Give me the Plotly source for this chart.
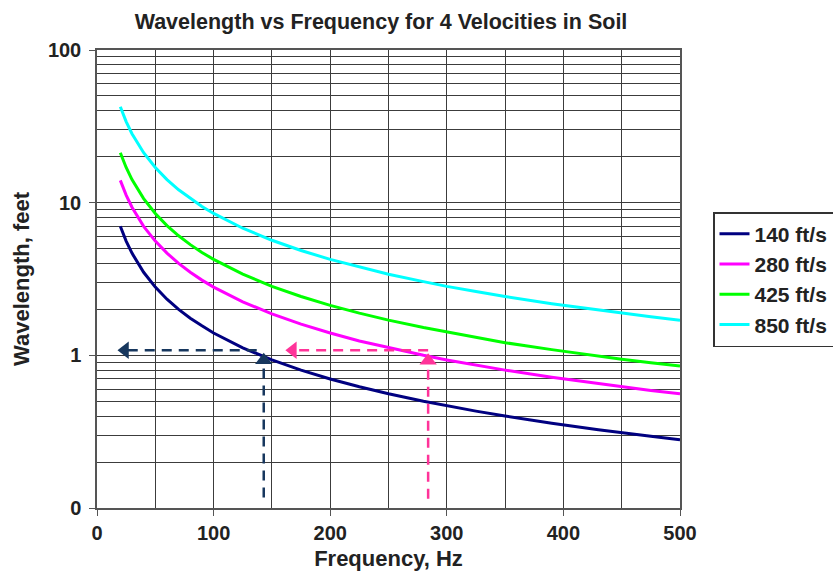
import plotly.graph_objects as go

freq = [20, 25, 30, 35, 40, 50, 60, 70, 80, 90, 100, 125, 150, 175, 200, 225, 250, 280, 300, 325, 350, 390, 430, 450, 475, 500]
wl_140 = [7.0, 5.6, 4.67, 4.0, 3.5, 2.8, 2.33, 2.0, 1.75, 1.56, 1.4, 1.12, 0.933, 0.8, 0.7, 0.622, 0.56, 0.5, 0.467, 0.431, 0.4, 0.359, 0.326, 0.311, 0.295, 0.28]
wl_280 = [14.0, 11.2, 9.33, 8.0, 7.0, 5.6, 4.67, 4.0, 3.5, 3.11, 2.8, 2.24, 1.87, 1.6, 1.4, 1.24, 1.12, 1.0, 0.933, 0.862, 0.8, 0.718, 0.651, 0.622, 0.589, 0.56]
wl_425 = [21.25, 17.0, 14.17, 12.14, 10.63, 8.5, 7.08, 6.07, 5.31, 4.72, 4.25, 3.4, 2.83, 2.43, 2.125, 1.89, 1.7, 1.52, 1.42, 1.31, 1.21, 1.09, 0.988, 0.944, 0.895, 0.85]
wl_850 = [42.5, 34.0, 28.3, 24.3, 21.25, 17.0, 14.17, 12.14, 10.63, 9.44, 8.5, 6.8, 5.67, 4.86, 4.25, 3.78, 3.4, 3.04, 2.83, 2.62, 2.43, 2.18, 1.98, 1.89, 1.79, 1.7]
series_names = ["140 ft/s", "280 ft/s", "425 ft/s", "850 ft/s"]
series_colors = ["#000080", "#ff00ff", "#00ff00", "#00ffff"]

# guide arrows
navy_v_x = [143, 143]
navy_v_y = [0.117, 0.93]
navy_h_x = [137, 24]
navy_h_y = [1.08, 1.08]
pink_v_x = [284, 284]
pink_v_y = [0.115, 0.92]
pink_h_x = [284, 168]
pink_h_y = [1.08, 1.08]

x_ticks = [0, 100, 200, 300, 400, 500]
x_minor = [50, 150, 250, 350, 450]
y_major = [0.1, 1, 10, 100]
y_major_text = ["0", "1", "10", "100"]
y_minor = [m * d for d in (0.1, 1, 10) for m in range(2, 10)]

FONT = "Liberation Sans, Arial, sans-serif"
TXT = "#222222"
fig = go.Figure()
for name, ys, c in zip(series_names, [wl_140, wl_280, wl_425, wl_850], series_colors):
    fig.add_trace(go.Scatter(x=freq, y=ys, mode="lines", name="<b>%s</b>" % name,
                             line=dict(color=c, width=3)))

navy = "#17375e"
pink = "#ff3399"
for xs, ys, c in [(navy_v_x, navy_v_y, navy), (navy_h_x, navy_h_y, navy),
                  (pink_v_x, pink_v_y, pink), (pink_h_x, pink_h_y, pink)]:
    fig.add_trace(go.Scatter(x=xs, y=ys, mode="lines", showlegend=False, hoverinfo="skip",
                             line=dict(color=c, width=2.5, dash="10px,7px")))
# arrowheads
for xs, ys, c, sym in [(navy_v_x, navy_v_y, navy, "triangle-up"), (navy_h_x, navy_h_y, navy, "triangle-left"),
                       (pink_v_x, pink_v_y, pink, "triangle-up"), (pink_h_x, pink_h_y, pink, "triangle-left")]:
    fig.add_trace(go.Scatter(x=[xs[1]], y=[ys[1]], mode="markers", showlegend=False, hoverinfo="skip",
                             marker=dict(symbol=sym, size=15, color=c)))

grid = "#3c3c3c"
fig.update_layout(
    width=833, height=573,
    margin=dict(l=97, r=153, t=50, b=65, autoexpand=False),
    paper_bgcolor="white", plot_bgcolor="white",
    font=dict(family=FONT, size=20, color=TXT),
    title=dict(text="<b>Wavelength vs Frequency for 4 Velocities in Soil</b>",
               x=381 / 833, xanchor="center", y=1 - 21 / 573, yanchor="middle",
               font=dict(size=21.5, family=FONT, color=TXT)),
    legend=dict(x=(713 - 97) / 583, y=(508 - 212) / 458, xanchor="left", yanchor="top",
                bgcolor="white", bordercolor="#333333", borderwidth=1.5,
                font=dict(size=21, family=FONT, color=TXT),
                itemwidth=30),
    showlegend=True,
)
fig.update_xaxes(
    range=[0, 500], tickvals=x_ticks,
    ticktext=["<b>%d</b>" % v for v in x_ticks],
    tickfont=dict(size=20),
    showgrid=True, gridcolor=grid, gridwidth=1.3,
    minor=dict(tickvals=x_minor, showgrid=True, gridcolor=grid, gridwidth=1.3),
    showline=True, linecolor="#555555", linewidth=1.5, mirror=True,
    ticks="outside", ticklen=6, tickcolor="#555555", zeroline=False,
    title=dict(text="<b>Frequency, Hz</b>", font=dict(size=22, family=FONT), standoff=8),
)
fig.update_yaxes(
    type="log", range=[-1, 2], tickvals=y_major,
    ticktext=["<b>%s</b>" % t for t in y_major_text],
    tickfont=dict(size=20), ticklabelstandoff=4,
    showgrid=True, gridcolor=grid, gridwidth=1.3,
    minor=dict(tickvals=y_minor, showgrid=True, gridcolor=grid, gridwidth=1.3, ticks=""),
    showline=True, linecolor="#555555", linewidth=1.5, mirror=True,
    ticks="outside", ticklen=6, tickcolor="#555555", zeroline=False,
    title=dict(text="<b>Wavelength, feet</b>", font=dict(size=22, family=FONT), standoff=12),
)
fig.write_html("out.html")
